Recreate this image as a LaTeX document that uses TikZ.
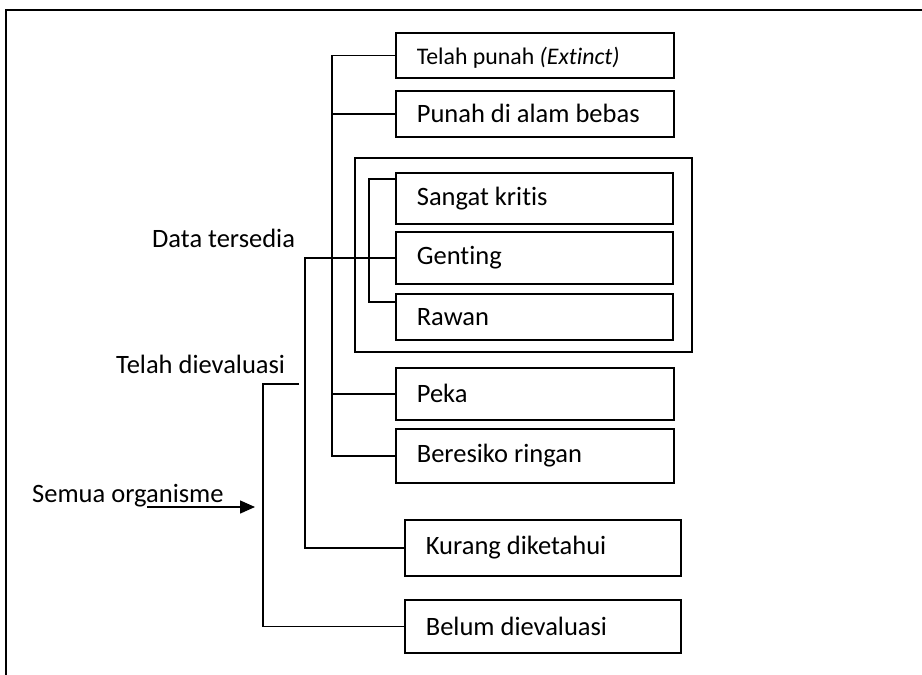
\documentclass[tikz,border=0pt]{standalone}
\usepackage{fontspec}
\setmainfont{Carlito}[Ligatures={NoCommon}]
\usetikzlibrary{arrows.meta,positioning,calc}

\begin{document}
\begin{tikzpicture}[x=1pt,y=-1pt,
    kotak/.style={draw, line width=1.7pt, anchor=north west, align=flush left,
                  inner xsep=21pt, inner ysep=0pt, font=\fontsize{26.5}{30}\selectfont},
    garis/.style={line width=1.5pt},
    teks/.style={anchor=base west, inner sep=0pt, font=\fontsize{26.5}{30}\selectfont}]
    \useasboundingbox (0,0) rectangle (922,675);
    % frame (only top and left show)
    \draw[line width=1.8pt] (6,700) -- (6,10) -- (940,10);

    % boxes
    \node[kotak, text width=236pt, minimum height=45pt, text depth=0pt,
          font=\fontsize{23.8}{28}\selectfont] (punah) at (395,32) {Telah punah \textit{(Extinct)}};
    \node[kotak, text width=236pt, minimum height=46pt] (liar) at (395,90) {Punah di alam bebas};
    \node[draw, line width=1.7pt, anchor=north west, inner sep=0pt,
          minimum width=337pt, minimum height=194pt] (kelompok) at (354,157) {};
    \node[kotak, text width=235pt, minimum height=51pt] (kritis) at (395,172) {Sangat kritis};
    \node[kotak, text width=235pt, minimum height=52pt] (genting) at (395,231) {Genting};
    \node[kotak, text width=235pt, minimum height=46pt] (rawan) at (395,293) {Rawan};
    \node[kotak, text width=236pt, minimum height=52pt] (peka) at (395,367) {Peka};
    \node[kotak, text width=236pt, minimum height=54pt] (beresiko) at (395,428) {Beresiko ringan};
    \node[kotak, text width=234pt, minimum height=56pt] (kurang) at (404,519) {Kurang diketahui};
    \node[kotak, text width=234pt, minimum height=53pt] (belum) at (404,599) {Belum dievaluasi};

    % labels
    \node[teks] (tersedia) at (152,247) {Data tersedia};
    \node[teks] (dievaluasi) at (116,373) {Telah dievaluasi};
    \node[teks] (semua) at (32,502) {Semua organisme};

    % connectors
    \coordinate (trunk) at (332,0);
    \coordinate (cabang) at (305,0);
    \coordinate (akar) at (263,0);
    \draw[garis] (punah.west) -- (punah.west -| trunk) |- (beresiko.west);
    \draw[garis] (liar.west) -- (liar.west -| trunk);
    \draw[garis] (peka.west) -- (peka.west -| trunk);
    \draw[garis] ($(kritis.north west)+(0,7)$) -- ++(-26,0) |- ($(rawan.north west)+(0,9)$);
    \draw[garis] (genting.west) -- (genting.west -| cabang) |- (kurang.west);
    \coordinate (ujung) at (299,384);
    \draw[garis] (ujung) -- (ujung -| akar) |- (belum.west);
    \coordinate (panahA) at (147,507);
    \coordinate (panahB) at (255,507);
    \draw[garis, -{Triangle[length=15pt,width=13pt]}] (panahA) -- (panahB);
\end{tikzpicture}
\end{document}
